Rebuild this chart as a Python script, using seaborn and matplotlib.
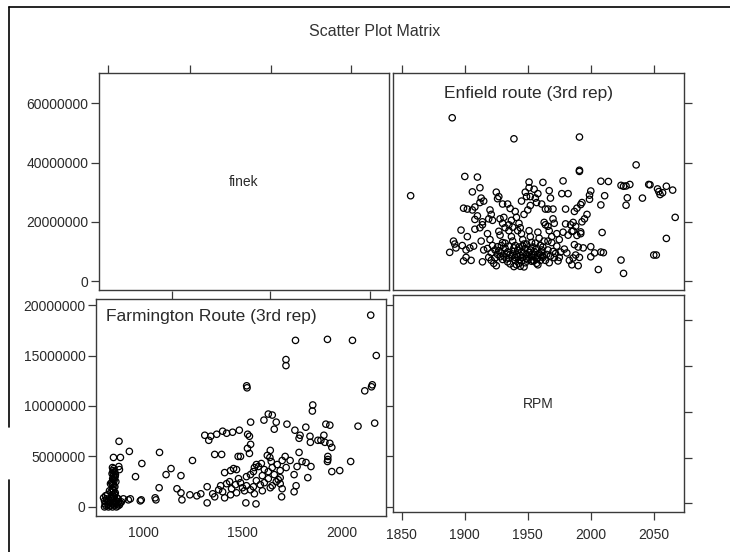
import matplotlib
matplotlib.use("Agg")
import matplotlib.pyplot as plt
from matplotlib.lines import Line2D
import seaborn as sns
import pandas as pd

# ---------------- data ----------------
TITLE = "Scatter Plot Matrix"
var_names = ["finek", "RPM"]
enfield_label = "Enfield route (3rd rep)"
farm_label = "Farmington Route (3rd rep)"

# Enfield route (3rd rep): RPM vs finek (millions)
enfield_pts = [
    (1857,28.8),(1890,55.1),(1939,48.0),(1991,48.6),(1991,37.4),(1991,37.0),(2036,39.2),
    (1900,35.3),(1910,35.1),(1951,33.4),(1962,33.3),(1978,33.8),(2008,33.7),(2014,33.6),
    (2024,32.3),(2026,32.0),(2028,32.1),(2031,32.6),(2046,32.6),(2047,32.5),
    (2053,31.1),(2060,32.0),(2065,30.7),(2055,29.2),(2057,29.8),(2054,30.2),
    (2041,28.0),(2029,28.1),(2028,25.6),(2067,21.5),(2060,14.4),(2050,8.8),(2052,8.8),
    (2024,7.1),(2026,2.6),(2006,3.9),(2003,9.5),(2008,9.8),(2010,9.6),(2000,8.2),(2009,16.4),
    (1999,29.0),(2000,30.4),(1999,27.6),(2008,25.7),(2011,28.8),
    (1997,22.5),(1995,21.0),(1993,20.0),(1989,24.6),(1992,25.8),(1987,23.5),(1993,26.5),
    (1980,24.3),(1970,24.3),(1966,24.3),(1964,24.3),(1967,30.5),(1968,28.0),(1977,29.5),(1982,29.5),
    (1958,29.5),(1956,28.0),(1957,26.5),(1961,26.0),(1952,28.5),(1955,31.0),
    (1970,21.0),(1971,19.5),(1964,19.0),(1966,18.5),(1963,19.8),
    (1980,19.3),(1984,19.0),(1988,18.5),(1986,19.8),
    (1978,16.5),(1982,15.5),(1985,16.8),(1992,16.6),(1992,16.0),(1986,16.9),(1989,15.4),
    (1987,12.3),(1990,11.5),(1994,11.2),(2000,11.6),(1966,13.5),(1969,13.0),(1973,11.8),
    (1979,10.8),(1976,9.8),(1981,9.5),(1988,8.8),(1991,8.0),(1986,7.8),(1983,7.0),
    (1971,7.9),(1974,6.8),(1962,8.0),(1957,7.5),(1953,6.7),(1985,5.5),(1990,5.2),
    (1906,30.1),(1912,31.5),(1913,28.0),(1915,27.0),(1912,26.5),
    (1925,30.0),(1927,28.5),(1926,27.8),(1930,26.0),(1934,26.0),
    (1899,24.6),(1902,24.3),(1906,24.0),(1908,25.0),(1910,22.0),(1908,20.8),(1914,20.0),
    (1920,24.0),(1921,22.5),(1919,21.0),(1922,20.5),(1928,21.0),(1931,21.5),(1930,19.5),(1935,19.0),
    (1897,17.2),(1902,15.0),(1908,17.5),(1912,18.0),(1914,19.0),
    (1891,13.5),(1892,12.5),(1893,11.2),(1888,9.7),
    (1898,12.0),(1901,10.5),(1904,11.2),(1901,8.0),(1905,7.0),(1899,6.8),
    (1907,11.8),(1913,13.5),(1915,10.5),(1914,6.5),
    (1918,16.0),(1920,14.0),(1922,12.0),(1924,10.5),(1926,9.0),(1919,8.0),(1921,7.0),(1923,6.0),(1925,5.2),
    (1928,15.5),(1930,13.0),(1932,11.0),(1929,9.5),(1931,8.5),(1933,7.5),(1934,6.5),(1936,5.8),
    (1935,17.0),(1937,15.0),(1938,13.5),(1940,12.0),(1939,10.0),(1941,9.0),(1942,8.2),(1940,7.0),(1943,6.0),(1941,5.5),
    (1944,18.0),(1945,16.0),(1946,14.0),(1947,12.5),(1948,11.0),(1945,10.0),(1949,9.0),(1946,8.0),(1950,7.2),(1948,6.2),
    (1951,17.0),(1952,15.0),(1953,13.0),(1954,11.5),(1955,10.0),(1953,9.0),(1956,8.0),(1954,7.0),(1957,6.0),
    (1958,16.5),(1959,14.5),(1960,12.0),(1961,10.5),(1959,9.3),(1962,8.5),(1960,7.0),
    (1943,19.5),(1937,20.5),(1941,21.5),(1947,22.5),(1950,24.0),(1952,25.5),(1945,27.0),(1949,28.5),(1948,30.0),(1951,31.5),
    (1940,23.5),(1936,24.5),(1942,17.0),(1927,16.8),(1932,18.0),(1938,18.2),
    (1921,9.5),(1927,10.2),(1933,9.2),(1938,8.6),(1944,8.7),(1950,8.5),(1955,8.8),(1961,9.8),
    (1924,7.8),(1930,7.3),(1935,7.8),(1943,7.2),(1947,9.5),(1952,10.5),(1957,11.0),(1962,11.5),
    (1918,11.0),(1929,12.0),(1935,11.8),(1943,11.5),(1949,12.5),(1956,12.8),(1963,13.5),
    (1944,5.0),(1947,4.8),(1939,4.9),(1958,5.5),
    (1965,9.0),(1968,8.5),(1970,10.0),(1966,10.5),(1972,9.3),(1975,8.0),(1964,7.0),(1967,6.2),
    (1969,15.0),(1973,16.0),(1967,17.0),(1975,14.0),
    (1928,8.2),(1934,9.8),(1939,11.2),(1942,10.4),(1946,11.8),(1951,9.6),(1953,8.2),(1958,7.8),
    (1926,11.6),(1932,12.8),(1936,9.0),(1940,8.0),(1945,6.8),(1949,7.6),(1955,6.9),(1960,8.8),
]

# Farmington Route (3rd rep): RPM vs finek (millions)
farm_pts = [
    (2146,19.0),(1767,16.5),(1928,16.6),(2054,16.5),(2174,15.0),(1719,14.6),(1719,14.0),
    (1521,12.0),(1523,11.8),(2116,11.5),(2150,11.9),(2154,12.1),
    (1854,10.1),(1852,9.5),(2166,8.3),(2082,8.0),(1920,8.2),(1940,8.1),(1819,7.9),
    (1724,8.2),(1764,7.6),(1608,8.6),(1630,9.2),(1650,9.1),(1670,8.4),(1660,7.7),(1541,8.4),
    (1484,7.6),(1450,7.4),(1420,7.3),(1400,7.5),(1370,7.2),(1340,7.0),(1330,6.6),(1310,7.1),
    (1526,7.2),(1535,7.0),(1790,7.1),(1785,6.8),(1840,7.0),(1842,6.4),(1880,6.6),(1910,7.1),
    (1895,6.6),(1915,6.4),(1940,6.3),(1950,5.9),
    (1930,5.0),(1930,4.7),(1928,4.5),(2045,4.5),(1990,3.6),(1950,3.5),(1829,2.9),
    (1845,4.0),(1820,4.4),(1800,4.5),(1785,5.4),(1775,4.0),(1760,3.2),
    (1740,4.6),(1720,3.9),(1700,4.6),(1715,5.0),(1640,5.6),(1638,4.9),(1645,4.5),(1625,5.1),
    (1478,5.0),(1490,5.0),(1525,5.8),(1541,6.2),(1535,5.3),
    (1360,5.2),(1395,5.2),(1082,5.4),(930,5.5),(878,6.5),(850,4.9),(885,4.9),
    (877,4.0),(880,3.7),(993,4.3),(961,3.0),(1115,3.2),(1140,3.8),(1190,3.1),(1248,4.6),
    (1080,1.9),(1170,1.8),(1190,1.4),(1195,0.7),(1235,1.2),(1270,1.1),(1290,1.3),(1322,2.0),(1322,0.4),
    (1350,1.3),(1380,1.7),(1390,2.1),(1400,1.5),(1420,2.3),(1435,2.5),(1445,1.8),(1465,2.2),(1490,2.4),
    (1500,1.9),(1520,2.1),(1540,1.7),(1555,2.0),(1570,2.6),(1590,2.2),(1610,2.4),(1630,2.8),(1650,2.1),
    (1670,2.5),(1690,2.9),(1360,1.0),(1410,0.9),(1440,1.2),(1470,1.4),(1510,1.6),(1560,1.3),(1600,1.6),
    (1640,1.9),(1410,3.4),(1440,3.6),(1455,3.8),(1470,3.7),
    (1517,0.4),(1568,0.3),(1697,1.0),(1700,1.8),(1690,2.3),(1770,2.1),(1760,1.5),
    (1560,3.9),(1570,4.2),(1580,4.0),(1595,4.3),(1610,3.7),(1630,3.5),(1650,3.9),(1675,4.2),(1690,3.6),
    (1480,2.8),(1520,3.0),(1540,3.2),(1555,3.5),(1600,3.1),(1660,3.2),(1680,2.7),
    (935,0.8),(985,0.6),(990,0.7),(1064,0.7),(1060,0.9),
    (845,3.9),(852,3.8),(848,3.6),(856,3.5),(843,3.3),(850,3.1),(858,3.0),(846,2.8),(853,2.6),
    (841,2.4),(849,2.2),(857,2.0),(844,1.8),(851,1.6),(859,1.4),(846,1.2),(854,1.0),(842,0.8),
    (850,0.6),(857,0.5),(847,0.3),(855,0.2),(835,2.3),(830,1.6),(838,1.5),(860,3.2),(862,2.5),
    (848,3.4),(855,2.9),(850,2.7),(845,2.3),(852,2.0),(848,1.7),(855,1.3),(849,0.9),(852,0.4),
    (800,0.9),(805,0.6),(808,0.3),(812,0.1),(815,0.8),(818,0.5),(822,0.2),(826,0.7),(830,0.4),
    (834,0.1),(838,0.9),(864,0.6),(868,0.3),(872,0.1),(876,0.5),(880,0.2),(884,0.4),(810,1.1),
    (820,1.2),(866,0.9),(874,0.8),(805,0.0),(825,0.0),(845,0.0),(865,0.0),(890,0.5),(900,0.8),(925,0.7),
]

enfield_rpm = [p[0] for p in enfield_pts]
enfield_finek = [p[1] * 1e6 for p in enfield_pts]
farm_rpm = [p[0] for p in farm_pts]
farm_finek = [p[1] * 1e6 for p in farm_pts]

finek_ticks_top = [0, 20000000, 40000000, 60000000]
finek_ticks_bottom = [0, 5000000, 10000000, 15000000, 20000000]
rpm_ticks_right = [1850, 1900, 1950, 2000, 2050]
rpm_ticks_left = [1000, 1500, 2000]

# ---------------- style ----------------
sns.set_style("white")
plt.rcParams["font.family"] = ["Liberation Sans", "DejaVu Sans"]
FRAME = "#3a3a3a"
TXT = "#2a2a2a"
W, H = 730, 552
fig = plt.figure(figsize=(W / 100, H / 100), dpi=100)
fig.patch.set_facecolor("white")

def box(l, t, r, b):
    return [l / W, 1 - b / H, (r - l) / W, (b - t) / H]

ax_tl = fig.add_axes(box(99, 73, 389, 290))
ax_tr = fig.add_axes(box(393, 73, 684, 290))
ax_bl = fig.add_axes(box(96, 299, 386, 516))
ax_br = fig.add_axes(box(393, 295, 684, 512))

for ax in (ax_tl, ax_tr, ax_bl, ax_br):
    ax.set_facecolor("white")
    for s in ax.spines.values():
        s.set_visible(True)
        s.set_color(FRAME)
        s.set_linewidth(1.0)
    ax.tick_params(which="both", direction="out", length=5.5, width=0.9,
                   color=FRAME, labelcolor=TXT, labelsize=10,
                   bottom=False, top=False, left=False, right=False,
                   labelbottom=False, labeltop=False, labelleft=False, labelright=False)
    ax.set_xlabel("")
    ax.set_ylabel("")

scat_kw = dict(marker="o", s=21, facecolors="none", edgecolor="black", linewidth=0.9, legend=False)

# top-right: Enfield
df_e = pd.DataFrame({"RPM": enfield_rpm, "finek": enfield_finek})
sns.scatterplot(data=df_e, x="RPM", y="finek", ax=ax_tr, **scat_kw)
ax_tr.set_xlim(1843, 2074)
ax_tr.set_ylim(-3e6, 70.2e6)
ax_tr.set_xticks(rpm_ticks_right)
ax_tr.set_yticks(finek_ticks_top)
ax_tr.tick_params(top=True, right=True)
ax_tr.set_xlabel(""); ax_tr.set_ylabel("")
ax_tr.text(0.465, 0.94, enfield_label, transform=ax_tr.transAxes, ha="center", va="top",
           fontsize=12.5, color=TXT)

# top-left: finek diagonal
ax_tl.set_xlim(0, 1)
ax_tl.set_ylim(-3e6, 70.2e6)
ax_tl.set_yticks(finek_ticks_top)
ax_tl.set_yticklabels([str(v) for v in finek_ticks_top])
ax_tl.set_xticks([0.031, 0.314, 0.593, 0.869])
ax_tl.tick_params(left=True, labelleft=True, top=True, pad=2)
ax_tl.text(0.5, 0.5, var_names[0], transform=ax_tl.transAxes, ha="center", va="center",
           fontsize=10, color=TXT)

# bottom-left: Farmington
df_f = pd.DataFrame({"RPM": farm_rpm, "finek": farm_finek})
sns.scatterplot(data=df_f, x="RPM", y="finek", ax=ax_bl, **scat_kw)
ax_bl.set_xlim(762, 2223)
ax_bl.set_ylim(-0.9e6, 20.6e6)
ax_bl.set_xticks(rpm_ticks_left)
ax_bl.set_xticklabels([str(v) for v in rpm_ticks_left])
ax_bl.set_yticks(finek_ticks_bottom)
ax_bl.set_yticklabels([str(v) for v in finek_ticks_bottom])
ax_bl.tick_params(left=True, labelleft=True, right=True, pad=2)
ax_bl.tick_params(axis="x", bottom=True, labelbottom=True, length=0, pad=7)
ax_bl.set_xlabel(""); ax_bl.set_ylabel("")
sec = ax_bl.secondary_xaxis("top")
sec.set_xticks([1146, 1638, 2141])
sec.set_xticklabels([])
sec.tick_params(direction="out", length=5.5, width=0.9, color=FRAME)
sec.spines["top"].set_visible(False)
ax_bl.text(0.035, 0.955, farm_label, transform=ax_bl.transAxes, ha="left", va="top",
           fontsize=12.5, color=TXT)

# bottom-right: RPM diagonal
ax_br.set_xlim(1843, 2074)
ax_br.set_ylim(0, 1)
ax_br.set_xticks(rpm_ticks_right)
ax_br.set_xticklabels([str(v) for v in rpm_ticks_right])
ax_br.set_yticks([0.041, 0.249, 0.461, 0.673, 0.885])
ax_br.tick_params(bottom=True, labelbottom=True, right=True)
ax_br.tick_params(axis="x", pad=6)
ax_br.text(0.5, 0.5, var_names[1], transform=ax_br.transAxes, ha="center", va="center",
           fontsize=10, color=TXT)

# title and outer frame lines
fig.text(375 / W, 1 - 31 / H, TITLE, ha="center", va="center", fontsize=11.5, color="#333333")
fig.add_artist(Line2D([9 / W, 1.0], [1 - 7 / H, 1 - 7 / H], color="black", lw=1.2))
fig.add_artist(Line2D([9 / W, 9 / W], [1 - 7 / H, 1 - 427 / H], color="black", lw=1.2))
fig.add_artist(Line2D([9 / W, 9 / W], [1 - 480 / H, 0.0], color="black", lw=1.2))

fig.savefig("out.png", dpi=100, facecolor="white")
